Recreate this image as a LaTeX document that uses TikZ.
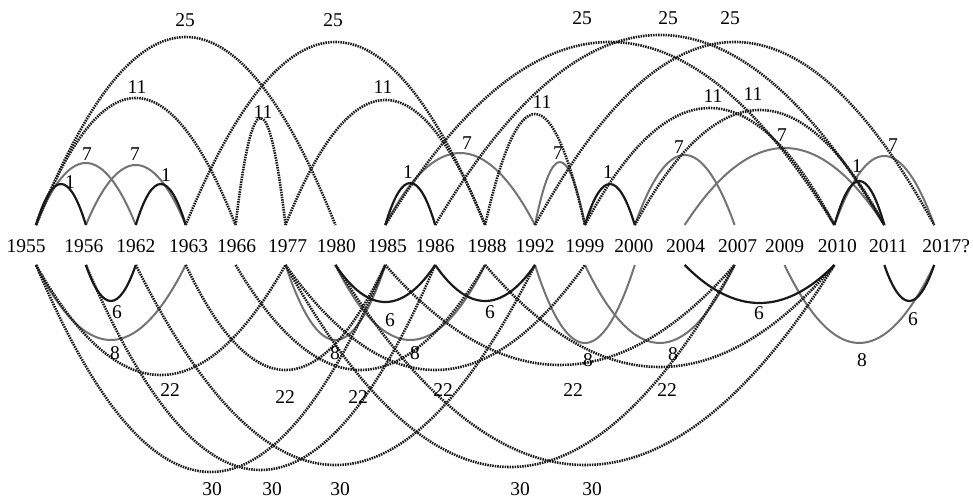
\documentclass[tikz,border=0pt]{standalone}
\usepackage{fontspec}
\setmainfont{Liberation Serif}
\usetikzlibrary{calc}
\tikzset{
  year/.style={font=\fontsize{19.5}{20}\selectfont, inner sep=0pt},
  num/.style={font=\fontsize{19.5}{20}\selectfont, inner sep=0pt},
  one/.style={line width=2.2pt, black!90},
  seven/.style={line width=2pt, black!55},
  far/.style={line width=2.6pt, black!90, dash pattern=on 1.5pt off 1pt},
}
% parabolic hop between two named points, #4 = height of the top
\newcommand{\arch}[4]{\draw[#1] (#2) .. controls ($(#2)!1/3!(#3)+(0,{4/3*(#4)})$) and ($(#2)!2/3!(#3)+(0,{4/3*(#4)})$) .. (#3);}
\begin{document}
\begin{tikzpicture}[x=1pt,y=1pt]
\useasboundingbox (0,0) rectangle (973,500);
\foreach \yr/\txt/\dx [count=\i from 0] in {1955/1955/-10,1956/1956/-2,1962/1962/0,1963/1963/3,1966/1966/1,1977/1977/2,1980/1980/1,1985/1985/2,1986/1986/0,1988/1988/2,1992/1992/0,1999/1999/0,2000/2000/-1,2004/2004/1,2007/2007/3,2009/2009/0,2010/2010/3,2011/2011/4,2017/2017?/12}{
  \coordinate (t\yr) at ({36+49.9*\i},275);
  \coordinate (b\yr) at ({36+49.9*\i},235);
  \node[year] (y\yr) at ({36+49.9*\i+\dx},253.5) {\txt};
}
% above: 7
\arch{seven}{t1955}{t1962}{62}
\arch{seven}{t1956}{t1963}{60}
\arch{seven}{t1985}{t1992}{72}
\arch{seven}{t1992}{t1999}{63}
\arch{seven}{t2000}{t2007}{70}
\arch{seven}{t2004}{t2011}{77}
\arch{seven}{t2010}{t2017}{69}
% above: 11
\arch{far}{t1955}{t1966}{127}
\arch{far}{t1966}{t1977}{107}
\arch{far}{t1977}{t1988}{125}
\arch{far}{t1988}{t1999}{111}
\arch{far}{t1999}{t2010}{117}
\arch{far}{t2000}{t2011}{115}
% above: 25
\arch{far}{t1955}{t1980}{188}
\arch{far}{t1963}{t1988}{183}
\arch{far}{t1985}{t2010}{183}
\arch{far}{t1986}{t2011}{190}
\arch{far}{t1992}{t2017}{183}
% above: 1
\arch{one}{t1955}{t1956}{41}
\arch{one}{t1962}{t1963}{41}
\arch{one}{t1985}{t1986}{42}
\arch{one}{t1999}{t2000}{41}
\arch{one}{t2010}{t2011}{44}
% below: 8
\arch{seven}{b1955}{b1963}{-75}
\arch{seven}{b1977}{b1985}{-75}
\arch{seven}{b1980}{b1988}{-75}
\arch{seven}{b1992}{b2000}{-78}
\arch{seven}{b1999}{b2007}{-78}
\arch{seven}{b2009}{b2017}{-78}
% below: 22
\arch{far}{b1955}{b1977}{-110}
\arch{far}{b1963}{b1985}{-105}
\arch{far}{b1966}{b1988}{-105}
\arch{far}{b1977}{b1999}{-105}
\arch{far}{b1985}{b2007}{-100}
\arch{far}{b1988}{b2010}{-102}
% below: 30
\arch{far}{b1955}{b1985}{-207}
\arch{far}{b1956}{b1986}{-205}
\arch{far}{b1962}{b1992}{-200}
\arch{far}{b1977}{b2007}{-202}
\arch{far}{b1980}{b2010}{-200}
% below: 6
\arch{one}{b1956}{b1962}{-36}
\arch{one}{b1980}{b1986}{-37}
\arch{one}{b1986}{b1992}{-36}
\arch{one}{b2004}{b2010}{-38}
\arch{one}{b2011}{b2017}{-36}
% gap labels
\foreach \lx/\ly/\lt [count=\j] in {70/182/1,166/175/1,408/172/1,608/172/1,857/166/1,
  87/154/7,135/154/7,467/143/7,558/153/7,679/147/7,782/135/7,893/145/7,
  137/87/11,263/112/11,383/87/11,542/102/11,713/96/11,753/94/11,
  185/20/25,333/20/25,582/18/25,668/18/25,730/18/25,
  117/312/6,390/320/6,490/312/6,759/313/6,913/319/6,
  115/353/8,335/353/8,415/353/8,588/360/8,673/354/8,862/360/8,
  170/390/22,285/397/22,358/397/22,443/390/22,573/390/22,667/390/22,
  212/489/30,272/489/30,340/489/30,520/489/30,592/489/30}
  \node[num] (g\j) at (\lx,{500-\ly}) {\lt};
\end{tikzpicture}
\end{document}
